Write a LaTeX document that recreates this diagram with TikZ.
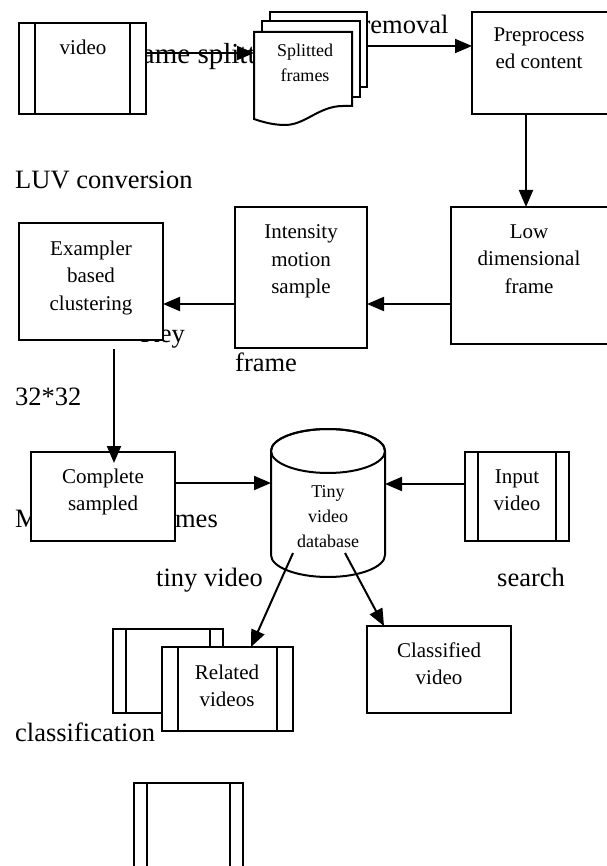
\documentclass[tikz,border=0pt]{standalone}
\usepackage{fontspec}
\setmainfont{Liberation Serif}
\usetikzlibrary{arrows.meta}

\tikzset{
  box/.style={draw, line width=2pt, fill=white, rectangle, anchor=north west,
    inner sep=0pt, outer sep=0pt},
  film/.style={box, path picture={
      \draw[line width=2pt] ([xshift=#1]path picture bounding box.north west)
        -- ([xshift=#1]path picture bounding box.south west);
      \draw[line width=2pt] ([xshift=-#1]path picture bounding box.north east)
        -- ([xshift=-#1]path picture bounding box.south east);}},
  page/.style={draw, fill=white, line width=2pt},
  area/.style={anchor=north west, inner sep=0pt, outer sep=0pt},
  txt/.style={anchor=north, inner sep=0pt, align=center,
    font=\fontsize{21}{27.5}\selectfont},
  smalltxt/.style={txt, font=\fontsize{18}{25}\selectfont},
  lbl/.style={anchor=base west, inner sep=0pt, font=\fontsize{26.5}{30}\selectfont},
  arr/.style={line width=2pt, -{Triangle[length=17pt,width=14pt]}},
}

\begin{document}
\begin{tikzpicture}[x=1pt, y=-1pt]
\useasboundingbox (0,0) rectangle (606,866);

% free-standing step labels (partly covered by the boxes drawn later)
\node[lbl, font=\fontsize{29}{32}\selectfont] (lfs) at (116,64) {Frame splitting};
\node[lbl] (lnr) at (293,34) {Noise removal};
\node[lbl] (luv) at (15,189) {LUV conversion};
\node[lbl, anchor=base east] (lkey) at (185,342) {Key};
\node[lbl] (lfr) at (235,371) {frame};
\node[lbl] (l32) at (15,405) {32*32};
\node[lbl] (lmu) at (15,527) {Multiple};
\node[lbl, anchor=base east] (lfm) at (218,527) {frames};
\node[lbl] (ltv) at (156,586) {tiny video};
\node[lbl] (lse) at (497,586) {search};
\node[lbl] (lcl) at (15,741) {classification};

% input clip
\node[film=16pt, minimum width=127pt, minimum height=91pt] (video) at (19,23) {};

% stack of split frames
\node[area, minimum width=113pt, minimum height=113pt] (split) at (254,12) {};
\path[page] (270,12) rectangle (367,87);
\path[page] (262,21) rectangle (360,97);
\path[page] (254,32) -- (352,32) -- (352,106) -- (343,106)
  .. controls (318,106) and (305,126) .. (283,125)
  .. controls (270,124.5) and (260,121) .. (254,119) -- cycle;

% processing boxes
\node[box, minimum width=136pt, minimum height=102pt] (pre) at (472,12) {};
\node[box, minimum width=157pt, minimum height=137pt] (low) at (451,207) {};
\node[box, minimum width=132pt, minimum height=141pt] (inten) at (235,207) {};
\node[box, minimum width=144pt, minimum height=117pt] (exam) at (19,223) {};
\node[box, minimum width=144pt, minimum height=89pt] (comp) at (31,452) {};

% database cylinder
\node[area, minimum width=114pt, minimum height=148pt] (db) at (271,429) {};
\path[page] (271,451) -- (271,555)
  arc[start angle=180, end angle=0, x radius=57, y radius=22]
  -- (385,451)
  arc[start angle=0, end angle=-180, x radius=57, y radius=22] -- cycle;
\draw[line width=2pt] (328,451) ellipse[x radius=57, y radius=22];

\node[film=13pt, minimum width=104pt, minimum height=89pt] (input) at (465,452) {};
\node[box, minimum width=144pt, minimum height=87pt] (cls) at (367,626) {};
\node[film=13pt, minimum width=110pt, minimum height=84pt] (relb) at (113,629) {};
\node[film=16pt, minimum width=131pt, minimum height=84pt] (rel) at (162,647) {};
\node[film=13pt, minimum width=109pt, minimum height=120pt] (clip) at (134,783) {};

% box captions
\node[txt] (tvideo) at (83,39.5) {video};
\node[smalltxt] (tsplit) at (305,43.5) {Splitted\\frames};
\node[txt] (tpre) at (539,27.5) {Preprocess\\ed content};
\node[txt] (tlow) at (529,224.5) {Low\\dimensional\\frame};
\node[txt] (tint) at (301,224.5) {Intensity\\motion\\sample};
\node[txt] (texam) at (91,240.5) {Exampler\\based\\clustering};
\node[txt] (tcomp) at (103,468.5) {Complete\\sampled};
\node[smalltxt] (tdb) at (328,485.5) {Tiny\\video\\database};
\node[txt] (tin) at (517,469.5) {Input\\video};
\node[txt] (tcls) at (439,642.5) {Classified\\video};
\node[txt] (trel) at (227,664.5) {Related\\videos};

% connectors
\path ([yshift=-30pt]video.north east) coordinate (v1);
\draw[arr] (v1) -- (v1 -| split.west);

\path ([yshift=-34pt]pre.north west) coordinate (p1);
\draw[arr] (p1 -| split.east) -- (p1);

\path ([xshift=54pt]pre.south west) coordinate (p2);
\draw[arr] (p2) -- (p2 |- low.north);

\path ([yshift=-97pt]low.north west) coordinate (l1);
\draw[arr] (l1) -- (l1 -| inten.east);

\path ([yshift=-97pt]inten.north west) coordinate (i1);
\draw[arr] (i1) -- (i1 -| exam.east);

\path ([xshift=95pt,yshift=-9pt]exam.south west) coordinate (e1);
\path ([yshift=-11pt]comp.north) coordinate (c0);
\draw[arr] (e1) -- (e1 |- c0);

\path ([yshift=-31pt]comp.north east) coordinate (c1);
\draw[arr] (c1) -- (c1 -| db.west);

\path ([yshift=-32pt]input.north west) coordinate (n1);
\draw[arr] (n1) -- (n1 -| db.east);

\path ([xshift=22pt,yshift=24pt]db.south west) coordinate (d1);
\path ([xshift=89pt]rel.north west) coordinate (r1);
\draw[arr] (d1) -- (r1);

\path ([xshift=74pt,yshift=24pt]db.south west) coordinate (d2);
\path ([xshift=17pt]cls.north west) coordinate (k1);
\draw[arr] (d2) -- (k1);
\end{tikzpicture}
\end{document}
